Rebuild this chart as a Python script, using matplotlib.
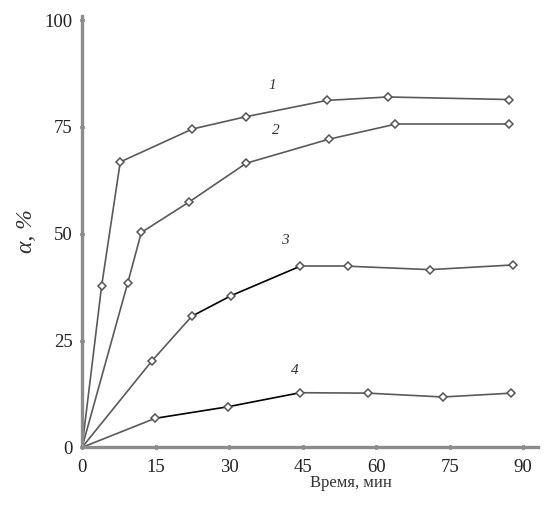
import numpy as np
import matplotlib
matplotlib.use('Agg')
import matplotlib.pyplot as plt

# time, min and alpha, % for the four curves
t1 = [0, 4.0, 7.8, 22.5, 33.5, 50.0, 62.4, 87.1]
a1 = [0, 37.8, 66.8, 74.5, 77.4, 81.2, 82.0, 81.4]

t2 = [0, 9.3, 12.1, 21.8, 33.5, 50.3, 63.8, 87.1]
a2 = [0, 38.4, 50.3, 57.4, 66.5, 72.1, 75.6, 75.6]

t3 = [0, 14.3, 22.4, 30.4, 44.5, 54.3, 71.0, 88.0]
a3 = [0, 20.3, 30.7, 35.5, 42.4, 42.4, 41.6, 42.7]

t4 = [0, 14.9, 29.7, 44.5, 58.3, 73.6, 87.6]
a4 = [0, 6.8, 9.5, 12.8, 12.7, 11.8, 12.7]

curve_labels = ['1', '2', '3', '4']
label_pos = [(38.8, 84.7), (39.6, 74.2), (41.4, 48.5), (43.4, 18.1)]

xticks = [0, 15, 30, 45, 60, 75, 90]
yticks = [0, 25, 50, 75, 100]

plt.rcParams['font.family'] = ['Liberation Serif', 'DejaVu Serif']

fig = plt.figure(figsize=(5.58, 5.09), dpi=100)
ax = fig.add_axes([0.147, 0.121, 0.817, 0.848])

grey = '#5a5a5a'
# segments drawn darker in the original (curve 3 and 4 middle parts)
dark = {2: [2, 3], 3: [1, 2]}
for i, (t, a) in enumerate([(t1, a1), (t2, a2), (t3, a3), (t4, a4)]):
    for j in range(len(t) - 1):
        c = 'black' if j in dark.get(i, []) else grey
        ax.plot(t[j:j + 2], a[j:j + 2], color=c, lw=1.2, zorder=2)
    ax.plot(t[1:], a[1:], 'D', ms=4.3, mfc='white', mec='#555555', mew=1.1,
            ls='none', zorder=3)
    ax.text(label_pos[i][0], label_pos[i][1], curve_labels[i], style='italic',
            fontsize=11, ha='center', va='center', color='#333333')

ax.set_xlim(0, 93)
ax.set_ylim(0, 101)
ax.set_xticks(xticks)
ax.set_yticks(yticks)
for s in ['top', 'right']:
    ax.spines[s].set_visible(False)
for s in ['left', 'bottom']:
    ax.spines[s].set_color('#8c8c8c')
    ax.spines[s].set_linewidth(2.4)
ax.tick_params(direction='inout', length=3, width=2, color='#333333',
               labelsize=13.5, labelcolor='#222222')
ax.tick_params(axis='x', pad=7)
ax.tick_params(axis='y', pad=5)

ax.set_xlabel('Время, мин', fontsize=12, color='#333333')
ax.xaxis.set_label_coords(0.59, -0.065)
ax.set_ylabel('α, %', fontsize=17, style='italic', color='#333333', labelpad=6)

fig.savefig('out.png', dpi=100)
